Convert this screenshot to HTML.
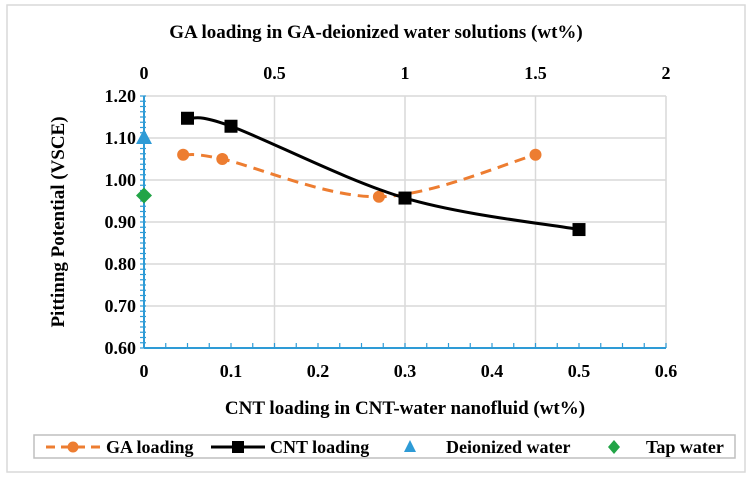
<!DOCTYPE html>
<html><head><meta charset="utf-8"><style>
body{margin:0;background:#fff;}
svg{display:block;font-family:"Liberation Serif",serif;font-weight:bold;}
</style></head><body>
<svg width="753" height="479" viewBox="0 0 753 479">
<rect x="7" y="5" width="738" height="467" fill="#fff" stroke="#d9d9d9" stroke-width="1.5"/>
<g id="grid"></g><g id="axes"></g><g id="series"></g>
<text x="376" y="38" font-size="19" text-anchor="middle">GA loading in GA-deionized water solutions (wt%)</text>
<text x="405" y="414" font-size="19" text-anchor="middle">CNT loading in CNT-water nanofluid (wt%)</text>
<text transform="translate(64,222) rotate(-90)" font-size="19" text-anchor="middle">Pittinng Potential (VSCE)</text>
<g>
<rect x="34" y="435" width="701" height="23" fill="#fff" stroke="#bfbfbf" stroke-width="1.5"/>
<g><line x1="46" y1="447" x2="101" y2="447" stroke="#ed7d31" stroke-width="3" stroke-dasharray="9,6"/><circle cx="73" cy="447" r="5.5" fill="#ed7d31"/><text x="106" y="453" font-size="18">GA loading</text></g>
<g><line x1="211" y1="447" x2="265" y2="447" stroke="#000" stroke-width="3"/><rect x="232" y="441" width="12" height="12" fill="#000"/><text x="270" y="453" font-size="18">CNT loading</text></g>
<g><polygon points="410,440 416,452 404,452" fill="#2e9bd6"/><text x="446" y="453" font-size="18">Deionized water</text></g>
<g><polygon points="614,440 620,447 614,454 608,447" fill="#22a447"/><text x="646" y="453" font-size="18">Tap water</text></g>
</g>
</svg>
<script>
const cntX=[0.05,0.1,0.3,0.5];
const cntY=[1.147,1.128,0.957,0.882];
const gaX=[0.15,0.3,0.9,1.5];
const gaY=[1.06,1.05,0.96,1.06];
const deionized=[0,1.10];
const tap=[0,0.963];
const yTicks=[0.6,0.7,0.8,0.9,1.0,1.1,1.2];
const xTicks=[0,0.1,0.2,0.3,0.4,0.5,0.6];
const topTicks=[0,0.5,1,1.5,2];
const L=144,R=666,T=96,B=348;
const xs=v=>L+(v/0.6)*(R-L);
const xt=v=>L+(v/2)*(R-L);
const ys=v=>B-((v-0.6)/0.6)*(B-T);
const NS="http://www.w3.org/2000/svg";
function mk(tag,attrs,parent){const e=document.createElementNS(NS,tag);for(const k in attrs)e.setAttribute(k,attrs[k]);parent.appendChild(e);return e;}
const grid=document.getElementById('grid'),axes=document.getElementById('axes'),ser=document.getElementById('series');
yTicks.forEach(v=>{
 const l=mk('line',{x1:L,x2:R,y1:ys(v),y2:ys(v),stroke:'#d9d9d9','stroke-width':1.5},grid);
 
 
 const t=mk('text',{x:L-8,y:ys(v)+6,'font-size':18,'text-anchor':'end'},axes);t.textContent=v.toFixed(2);
 
 
});
topTicks.forEach(v=>{
 if(v>0){const l=mk('line',{x1:xt(v),x2:xt(v),y1:T,y2:B,stroke:'#d9d9d9','stroke-width':1.5},grid);
 
 }
 const t=mk('text',{x:xt(v),y:79,'font-size':18,'text-anchor':'middle'},axes);t.textContent=String(v);
 
 
});
xTicks.forEach(v=>{
 const t=mk('text',{x:xs(v),y:377,'font-size':18,'text-anchor':'middle'},axes);t.textContent=String(v);
 
 
});
const ya=mk('line',{x1:L,x2:L,y1:T,y2:B,stroke:'#2e9bd6','stroke-width':2},axes);


const xa=mk('line',{x1:L,x2:R,y1:B,y2:B,stroke:'#2e9bd6','stroke-width':2},axes);


for(let v=0.6;v<=1.2001;v+=0.0125){mk('line',{x1:L-4,x2:L+2,y1:ys(v),y2:ys(v),stroke:'#2e9bd6','stroke-width':1.2},axes);}
for(let v=0;v<=0.6001;v+=0.025){mk('line',{x1:xs(v),x2:xs(v),y1:B,y2:B-5,stroke:'#2e9bd6','stroke-width':1.2},axes);}
function smooth(pts){let d=`M${pts[0][0]},${pts[0][1]}`;const t=1/6;
 for(let i=0;i<pts.length-1;i++){const p0=pts[i-1]||pts[i],p1=pts[i],p2=pts[i+1],p3=pts[i+2]||p2;
 d+=` C${p1[0]+(p2[0]-p0[0])*t},${p1[1]+(p2[1]-p0[1])*t} ${p2[0]-(p3[0]-p1[0])*t},${p2[1]-(p3[1]-p1[1])*t} ${p2[0]},${p2[1]}`;}
 return d;}
const gp=gaX.map((x,i)=>[xt(x),ys(gaY[i])]);
const cp=cntX.map((x,i)=>[xs(x),ys(cntY[i])]);
const gl=mk('path',{d:smooth(gp),fill:'none',stroke:'#ed7d31','stroke-width':3,'stroke-dasharray':'11,7'},ser);


gp.forEach(p=>{const c=mk('circle',{cx:p[0],cy:p[1],r:6,fill:'#ed7d31'},ser);
 
 });
const cl=mk('path',{d:smooth(cp),fill:'none',stroke:'#000','stroke-width':3},ser);


cp.forEach(p=>{const r=mk('rect',{x:p[0]-6.5,y:p[1]-6.5,width:13,height:13,fill:'#000'},ser);
 
 });
const dx=xs(deionized[0]),dy=ys(deionized[1]);
const tri=mk('polygon',{points:`${dx},${dy-9} ${dx+8},${dy+6} ${dx-8},${dy+6}`,fill:'#2e9bd6'},ser);


const tx=xs(tap[0]),ty=ys(tap[1]);
const dia=mk('polygon',{points:`${tx},${ty-8} ${tx+8},${ty} ${tx},${ty+8} ${tx-8},${ty}`,fill:'#22a447'},ser);


</script>
</body></html>
